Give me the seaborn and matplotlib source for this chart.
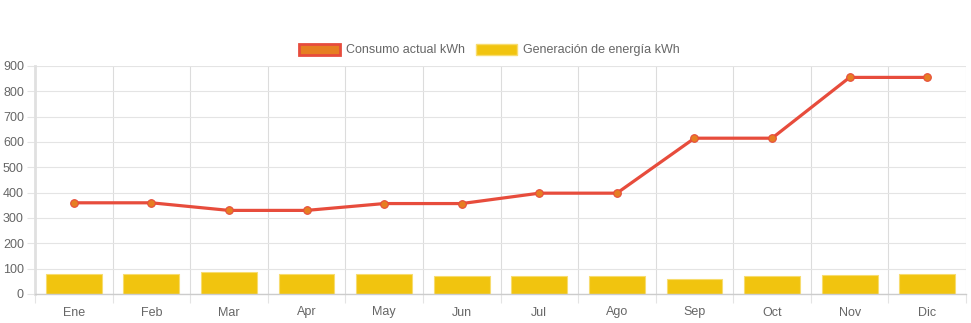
import matplotlib
matplotlib.use("Agg")
import matplotlib.pyplot as plt
from matplotlib.patches import Patch
from matplotlib.ticker import MultipleLocator, FixedLocator
import seaborn as sns
import pandas as pd
import numpy as np

months = ["Ene", "Feb", "Mar", "Apr", "May", "Jun", "Jul", "Ago", "Sep", "Oct", "Nov", "Dic"]
consumo = [360, 360, 330, 330, 357, 357, 398, 398, 615, 615, 855, 855]
generacion = [78, 79, 86, 80, 78, 71, 72, 71, 60, 70, 75, 79]
label_consumo = "Consumo actual kWh"
label_gen = "Generación de energía kWh"

sns.set_theme(style="white")
plt.rcParams["font.family"] = ["Liberation Sans", "DejaVu Sans"]

df = pd.DataFrame({"mes": months, "consumo": consumo, "generacion": generacion})

fig = plt.figure(figsize=(9.71, 3.23), dpi=100)
ax = fig.add_axes([35 / 971, 1 - 294 / 323, (966 - 35) / 971, 228 / 323])

text_color = "#666666"
grid_color = "#e4e4e4"

sns.barplot(data=df, x="mes", y="generacion", color="#F1C40F", saturation=1,
            width=0.72, edgecolor="#F7DC6F", linewidth=0.8, ax=ax, zorder=2)
sns.lineplot(data=df, x="mes", y="consumo", color="#E74C3C", linewidth=2.3,
             marker="o", markersize=5.5, markerfacecolor="#E67E22",
             markeredgecolor="#E74C3C", markeredgewidth=0.8, ax=ax, zorder=3,
             sort=False)

ax.set_xlim(-0.5, 11.5)
ax.set_ylim(0, 900)
ax.yaxis.set_major_locator(MultipleLocator(100))
ax.set_xlabel("")
ax.set_ylabel("")

ax.set_xticks(range(len(months)))
ax.set_xticklabels(months)
ax.xaxis.set_minor_locator(FixedLocator(np.arange(-0.5, 12, 1.0)))
ax.tick_params(axis="x", which="major", length=0, pad=9, labelsize=9, labelcolor=text_color)
ax.tick_params(axis="x", which="minor", length=6.5, width=0.8, color=grid_color, direction="out", bottom=True)
ax.tick_params(axis="y", which="major", length=6, width=0.8, color=grid_color, pad=2,
               labelsize=9, labelcolor=text_color, left=True)

ax.grid(False)
ax.xaxis.grid(True, which="minor", color="#dcdcdc", linewidth=0.8)
ax.yaxis.grid(True, which="major", color=grid_color, linewidth=0.8)
ax.set_axisbelow(True)

for s in ["top", "right"]:
    ax.spines[s].set_visible(False)
ax.spines["left"].set_color("#e0e0e0")
ax.spines["left"].set_linewidth(2)
ax.spines["bottom"].set_color("#cccccc")
ax.spines["bottom"].set_linewidth(1)

handles = [
    Patch(facecolor="#E67E22", edgecolor="#E74C3C", linewidth=2, label=label_consumo),
    Patch(facecolor="#F1C40F", edgecolor="#F7DC6F", linewidth=1, label=label_gen),
]
fig.legend(handles=handles, loc="center", bbox_to_anchor=(489 / 971, 1 - 50 / 323), ncol=2,
           frameon=False, fontsize=9, labelcolor=text_color, handlelength=3.3,
           handleheight=1.0, handletextpad=0.45, columnspacing=0.9, borderpad=0)

fig.savefig("out.png", dpi=100)
